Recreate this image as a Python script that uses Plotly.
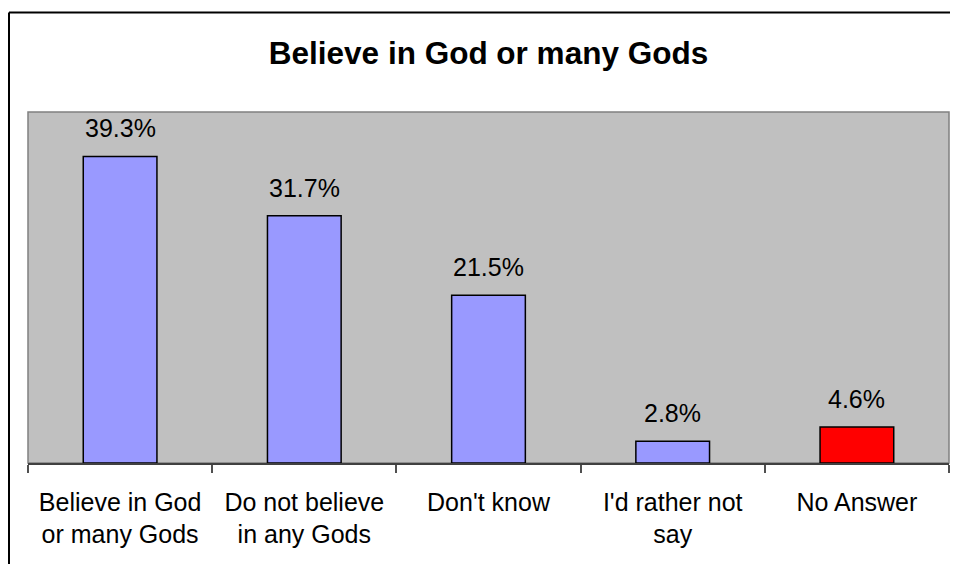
import plotly.graph_objects as go

categories = ["Believe in God<br>or many Gods", "Do not believe<br>in any Gods", "Don't know",
              "I'd rather not<br>say", "No Answer"]
values = [39.3, 31.7, 21.5, 2.8, 4.6]
labels = ["39.3%", "31.7%", "21.5%", "2.8%", "4.6%"]
colors = ["#9999FF", "#9999FF", "#9999FF", "#9999FF", "#FF0000"]

# page has an 8px body margin, so the figure starts at (8, 8); keep it inside the window
W, H = 942, 556
ML, MR, MT, MB = 20, 1, 104, 101

FONT = "Liberation Sans, Arial"

fig = go.Figure()
fig.add_trace(go.Bar(
    x=categories, y=values, width=0.4,
    marker=dict(color=colors, line=dict(color="black", width=1.5)),
    hoverinfo="skip",
))

for c, v, t in zip(categories, values, labels):
    fig.add_annotation(x=c, y=v, text=t, showarrow=False, yanchor="bottom",
                       yshift=12, font=dict(family=FONT, size=25, color="black"))

fig.update_layout(
    width=W, height=H,
    margin=dict(l=ML, r=MR, t=MT, b=MB),
    paper_bgcolor="white", plot_bgcolor="#C0C0C0",
    showlegend=False,
    title=dict(text="<b>Believe in God or many Gods</b>", x=0.5, xref="paper",
               y=1 - 45 / H, yref="container", yanchor="middle", xanchor="center",
               font=dict(family=FONT, size=31.5, color="black")),
    font=dict(family=FONT, size=25, color="black"),
)
fig.update_xaxes(
    showline=True, linecolor="#404040", linewidth=1.5,
    ticks="outside", tickson="boundaries", ticklen=8, tickcolor="#505050", tickwidth=1.5,
    showgrid=False, tickfont=dict(family=FONT, size=25, color="black"),
    ticklabelstandoff=16, fixedrange=True,
)
fig.update_yaxes(range=[0, 45], visible=False, fixedrange=True, showgrid=False)

PW, PH = W - ML - MR, H - MT - MB
# plot area border
fig.add_shape(type="rect", xref="paper", yref="paper", x0=0, x1=1, y0=0, y1=1,
              line=dict(color="#808080", width=1.5), layer="below")
# outer chart border: only top and left edges are inside the window
bx0 = -(ML - 1) / PW
by1 = 1 + (MT - 4.5) / PH
fig.add_shape(type="line", xref="paper", yref="paper",
              x0=bx0, x1=1 + (MR + 2) / PW, y0=by1, y1=by1,
              line=dict(color="black", width=2))
fig.add_shape(type="line", xref="paper", yref="paper",
              x0=bx0, x1=bx0, y0=by1, y1=-(MB + 2) / PH,
              line=dict(color="black", width=2))

fig.write_html("out.html")
